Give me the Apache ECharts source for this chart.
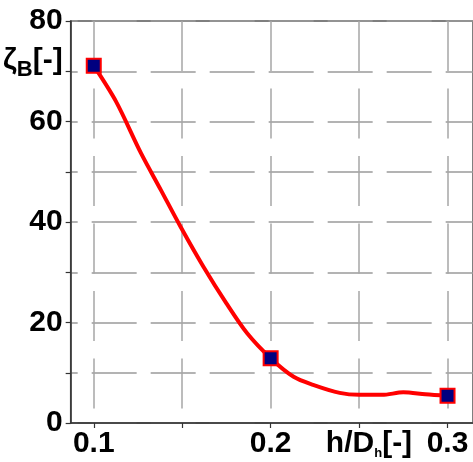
<!DOCTYPE html>
<html><head><meta charset="utf-8">
<script src="https://cdn.jsdelivr.net/npm/echarts@6/dist/echarts.min.js"></script>
<style>html,body{margin:0;padding:0;background:#fff}#c{width:473px;height:462px}</style>
</head><body><div id="c"></div>
<script>
// measured points (markers)
const markerX = [0.1, 0.2, 0.3];
const markerY = [71.1, 12.9, 5.4];
// curve
const curveX = [0.1, 0.1127, 0.1267, 0.1379, 0.149, 0.162, 0.175, 0.1866, 0.2, 0.213, 0.224, 0.239, 0.25, 0.263, 0.275, 0.2875, 0.3];
const curveY = [71.1, 63.9, 53.7, 46.4, 39.1, 31.1, 23.8, 17.9, 12.9, 9.2, 7.6, 6.0, 5.6, 5.6, 6.1, 5.7, 5.4];
// tick labels
const xTicks = [0.1, 0.15, 0.2, 0.25, 0.3];
const xLabelValues = [0.1, 0.2, 0.2556, 0.3];
const xLabelTexts = ['0.1', '0.2', '{a|h/D}{t|h}{a|[-]}', '0.3'];
const yLabelValues = [0, 20, 40, 60, 72, 80];
const yLabelTexts = ['0', '20', '40', '60', '{a|ζ}{s|B}{a|[-]}', '80'];

const FONT = "'Liberation Sans Narrow','Arial Narrow','Liberation Sans',Arial,sans-serif";
const chart = echarts.init(document.getElementById('c'));
const rich = {
  a: {fontFamily: FONT, fontWeight: 'bold', fontSize: 30, lineHeight: 30, color: '#000', verticalAlign: 'top'},
  s: {fontFamily: FONT, fontWeight: 'bold', fontSize: 22, lineHeight: 22, color: '#000', verticalAlign: 'top', padding: [13, 0, 0, 0]},
  t: {fontFamily: FONT, fontWeight: 'bold', fontSize: 13, lineHeight: 13, color: '#000', verticalAlign: 'top', padding: [18, 0, 0, 0]}
};
chart.setOption({
  animation: false,
  grid: {left: 69, right: -2, top: 21, bottom: 39, show: true, borderColor: '#555', borderWidth: 1.5, backgroundColor: 'transparent'},
  xAxis: {
    type: 'value', min: 0.08695, max: 0.3144,
    axisLine: {show: true, onZero: false, lineStyle: {color: '#333', width: 1.5}},
    axisTick: {show: true, customValues: xTicks, length: 5, lineStyle: {color: '#333', width: 1.2}},
    axisLabel: {
      customValues: xLabelValues, margin: 6,
      fontFamily: FONT, fontWeight: 'bold', fontSize: 30, color: '#000',
      formatter: v => { const i = xLabelValues.findIndex(x => Math.abs(x - v) < 1e-6); return i >= 0 ? xLabelTexts[i] : ''; },
      rich: rich
    },
    splitLine: {show: true, lineStyle: {color: '#a6a6a6', width: 1.5, type: [50, 17.5], dashOffset: 0}}
  },
  yAxis: {
    type: 'value', min: 0, max: 80, interval: 10,
    axisLine: {show: true, onZero: false, lineStyle: {color: '#333', width: 1.5}},
    axisTick: {show: true, length: 5, lineStyle: {color: '#333', width: 1.2}},
    axisLabel: {
      customValues: yLabelValues, margin: 8,
      fontFamily: FONT, fontWeight: 'bold', fontSize: 30, color: '#000',
      formatter: v => { const i = yLabelValues.findIndex(x => Math.abs(x - v) < 1e-6); return i >= 0 ? yLabelTexts[i] : ''; },
      rich: rich
    },
    splitLine: {show: true, lineStyle: {color: '#9a9a9a', width: 1.5, type: [45, 14], dashOffset: 38}}
  },
  series: [
    {type: 'line', data: curveX.map((x, i) => [x, curveY[i]]), smooth: 0.3, showSymbol: false, symbol: 'none',
     lineStyle: {color: '#ff0000', width: 4}, z: 2},
    {type: 'scatter', data: markerX.map((x, i) => [x, markerY[i]]), symbol: 'rect', symbolSize: 14,
     itemStyle: {color: '#000080', borderColor: '#ff0000', borderWidth: 2, opacity: 1}, z: 3}
  ]
});
</script></body></html>
